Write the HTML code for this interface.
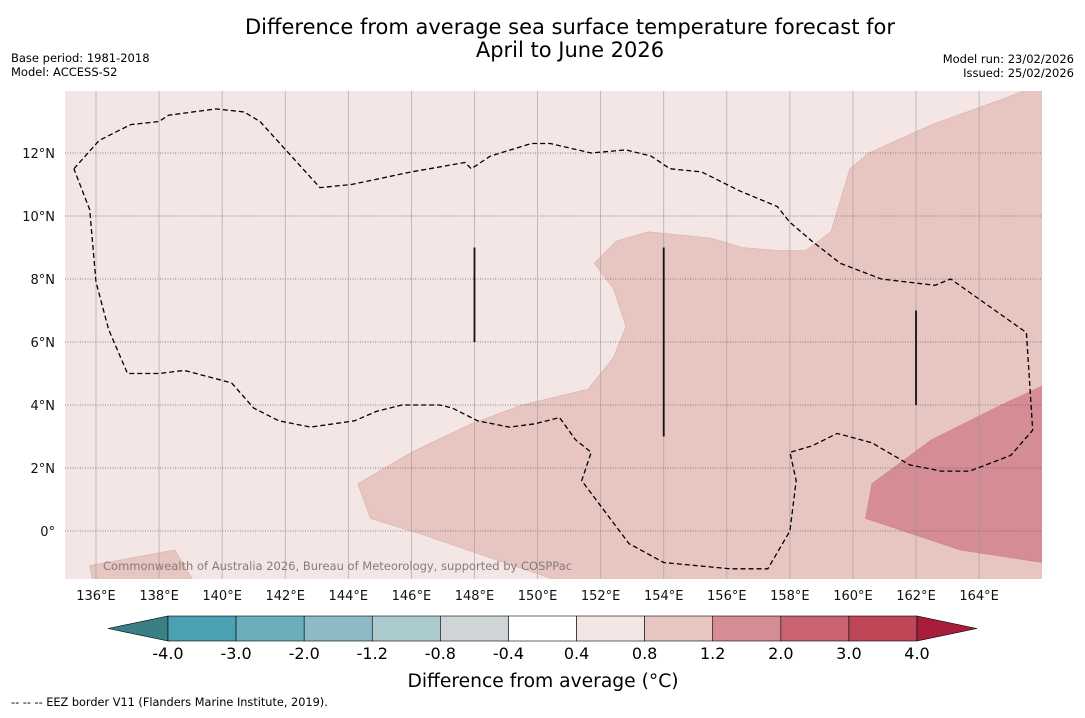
<!DOCTYPE html>
<html><head><meta charset="utf-8"><style>
body{margin:0;background:#fff;font-family:"Liberation Sans","DejaVu Sans",sans-serif;}
svg text{font-family:"DejaVu Sans","Liberation Sans",sans-serif;}
</style></head><body>
<svg id="chart" width="1085" height="713" viewBox="0 0 1085 713" xmlns="http://www.w3.org/2000/svg">
<g id="g"></g>
</svg>
<script>
const lonTicks=[136,138,140,142,144,146,148,150,152,154,156,158,160,162,164];
const latTicks=[0,2,4,6,8,10,12];
const cbLabels=["-4.0","-3.0","-2.0","-1.2","-0.8","-0.4","0.4","0.8","1.2","2.0","3.0","4.0"];
const cbColors=["#49a1b1","#6aaebb","#8cbac5","#abcbcf","#cfd4d7","#ffffff","#f4e6e5","#e7c5c1","#d58c95","#c8636f","#bf4657"];
const bgLevel="#f4e6e5";
const midRegion=[[144.3,1.5],[146.0,2.5],[147.9,3.4],[149.5,4.0],[151.6,4.5],[152.4,5.5],[152.8,6.5],[152.4,7.7],[151.8,8.5],[152.5,9.2],[153.5,9.5],[155.5,9.3],[156.5,9.0],[157.6,8.9],[158.5,8.9],[159.3,9.5],[159.9,11.5],[160.5,12.0],[162.5,12.9],[164.7,13.7],[166,14.2],[166,-1.6],[150.7,-1.6],[146.3,-0.1],[144.7,0.4]];
const darkRegion=[[160.6,1.5],[162.5,2.9],[164.7,4.0],[166,4.6],[166,-1.0],[163.4,-0.6],[160.4,0.4]];
const swRegion=[[135.8,-1.1],[138.5,-0.6],[139.1,-1.6],[135.9,-1.6]];
const eez=[[135.3,11.5],[136.1,12.4],[137.1,12.9],[138.0,13.0],[138.3,13.2],[139.8,13.4],[140.7,13.3],[141.2,13.0],[143.1,10.9],[144.1,11.0],[146.0,11.4],[147.7,11.7],[147.9,11.5],[148.5,11.9],[149.8,12.3],[150.4,12.3],[151.7,12.0],[152.8,12.1],[153.6,11.9],[154.2,11.5],[155.2,11.4],[156.4,10.8],[157.6,10.3],[158.0,9.8],[158.7,9.2],[159.6,8.5],[160.9,8.0],[162.6,7.8],[163.1,8.0],[165.5,6.3],[165.7,3.2],[165.0,2.4],[163.7,1.9],[162.8,1.9],[161.8,2.1],[160.6,2.8],[159.5,3.1],[158.7,2.7],[158.0,2.5],[158.2,1.6],[158.0,0.0],[157.3,-1.2],[156.1,-1.2],[154.0,-1.0],[152.9,-0.4],[152.0,0.8],[151.4,1.6],[151.7,2.5],[151.2,2.9],[150.7,3.6],[149.9,3.4],[149.1,3.3],[148.1,3.5],[147.3,3.9],[146.9,4.0],[145.7,4.0],[144.9,3.8],[144.2,3.5],[142.8,3.3],[141.8,3.5],[141.0,3.9],[140.3,4.7],[138.8,5.1],[138.0,5.0],[137.0,5.0],[136.4,6.4],[136.0,7.9],[135.8,10.2],[135.3,11.5]];
const vLines=[[148,9,6],[154,9,3],[162,7,4]];

const X0=65,X1=1042,Y0=91,Y1=579;
const x=lon=>96+(lon-136)*31.54;
const y=lat=>531-lat*31.5;
const NS="http://www.w3.org/2000/svg";
const g=document.getElementById('g');
function mk(t,a,txt){const e=document.createElementNS(NS,t);for(const k in a)e.setAttribute(k,a[k]);if(txt!=null)e.textContent=txt;g.appendChild(e);return e;}
const pts=arr=>arr.map(p=>x(p[0]).toFixed(1)+","+y(p[1]).toFixed(1)).join(" ");

const defs=mk('defs',{});
const cp=document.createElementNS(NS,'clipPath');cp.setAttribute('id','mc');
const cr=document.createElementNS(NS,'rect');cr.setAttribute('x',X0);cr.setAttribute('y',Y0);cr.setAttribute('width',X1-X0);cr.setAttribute('height',Y1-Y0);
cp.appendChild(cr);defs.appendChild(cp);

let e;
e=mk('rect',{x:X0,y:Y0,width:X1-X0,height:Y1-Y0,fill:bgLevel});


e=mk('polygon',{points:pts(midRegion),fill:"#e7c5c1",stroke:"#d9b0ac","stroke-width":0.6,"clip-path":"url(#mc)"});


e=mk('polygon',{points:pts(swRegion),fill:"#e7c5c1",stroke:"#d9b0ac","stroke-width":0.6,"clip-path":"url(#mc)"});


e=mk('polygon',{points:pts(darkRegion),fill:"#d58c95",stroke:"#c7808a","stroke-width":0.6,"clip-path":"url(#mc)"});



lonTicks.forEach(l=>{
 e=mk('line',{x1:x(l),x2:x(l),y1:Y0,y2:Y1,stroke:"#999",'stroke-width':0.8,opacity:0.7});
 
 
 e=mk('text',{x:x(l),y:600,'font-size':13,'text-anchor':'middle',fill:'#111'},l+"°E");
 
 
});
latTicks.forEach(l=>{
 e=mk('line',{x1:X0,x2:X1,y1:y(l),y2:y(l),stroke:"#666",'stroke-width':0.7,'stroke-dasharray':'1,1.5'});
 
 
 e=mk('text',{x:55,y:y(l)+5,'font-size':13,'text-anchor':'end',fill:'#111'},l===0?"0°":l+"°N");
 
 
});

e=mk('polyline',{points:pts(eez),fill:'none',stroke:'#000','stroke-width':1.3,'stroke-dasharray':'5,3'});


vLines.forEach(v=>{
 e=mk('line',{x1:x(v[0]),x2:x(v[0]),y1:y(v[1]),y2:y(v[2]),stroke:'#111','stroke-width':1.8});
 
 
});

e=mk('text',{x:103,y:570,'font-size':11.5,fill:'#8a7a7a'},"Commonwealth of Australia 2026, Bureau of Meteorology, supported by COSPPac");



e=mk('text',{x:570,y:34,'font-size':21,'text-anchor':'middle',fill:'#000'},"Difference from average sea surface temperature forecast for");


e=mk('text',{x:570,y:57,'font-size':21,'text-anchor':'middle',fill:'#000'},"April to June 2026");


e=mk('text',{x:11,y:62,'font-size':11.5,fill:'#000'},"Base period: 1981-2018");


e=mk('text',{x:11,y:76,'font-size':11.5,fill:'#000'},"Model: ACCESS-S2");


e=mk('text',{x:1074,y:63,'font-size':11.5,'text-anchor':'end',fill:'#000'},"Model run: 23/02/2026");


e=mk('text',{x:1074,y:77,'font-size':11.5,'text-anchor':'end',fill:'#000'},"Issued: 25/02/2026");



const cbX0=168,cbX1=917,cbY=616,cbH=25,bw=(cbX1-cbX0)/cbColors.length;
e=mk('polygon',{points:`${cbX0},${cbY} ${cbX0},${cbY+cbH} 108,${cbY+cbH/2}`,fill:'#3a7f86',stroke:'#000','stroke-width':0.6});


cbColors.forEach((c,i)=>{
 e=mk('rect',{x:cbX0+i*bw,y:cbY,width:bw,height:cbH,fill:c,stroke:'#000','stroke-width':0.6});
 
 
});
e=mk('polygon',{points:`${cbX1},${cbY} ${cbX1},${cbY+cbH} 977,${cbY+cbH/2}`,fill:'#a81d3a',stroke:'#000','stroke-width':0.6});


cbLabels.forEach((t,i)=>{
 e=mk('text',{x:cbX0+i*bw,y:659,'font-size':16,'text-anchor':'middle',fill:'#000'},t);
 
 
});
e=mk('text',{x:543,y:687,'font-size':18.7,'text-anchor':'middle',fill:'#000'},"Difference from average (°C)");


e=mk('text',{x:11,y:706,'font-size':11.3,fill:'#000'},"--  --  -- EEZ border V11 (Flanders Marine Institute, 2019).");


</script>
</body></html>
